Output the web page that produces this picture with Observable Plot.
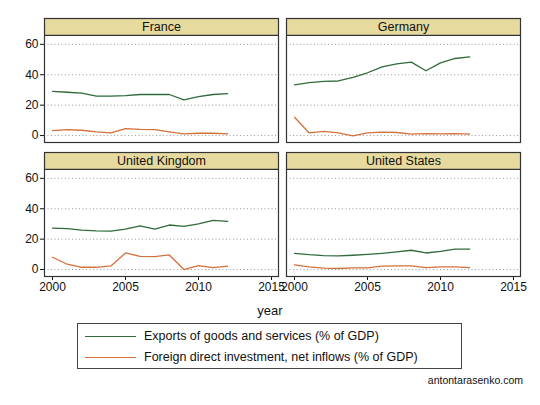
<!DOCTYPE html>
<html>
<head>
<meta charset="utf-8">
<script src="https://cdn.jsdelivr.net/npm/d3@7"></script>
<script src="https://cdn.jsdelivr.net/npm/@observablehq/plot@0.6"></script>
<style>
  html, body { margin: 0; padding: 0; background: #fff; }
  body { width: 540px; height: 405px; position: relative; overflow: hidden;
         font-family: "Liberation Sans", Arial, Helvetica, sans-serif; color: #111; }
  #chart { position: absolute; left: 0; top: 0; }
  #xlabel { position: absolute; left: 0; width: 540px; top: 303px; text-align: center; font-size: 13px; }
  #legend { position: absolute; left: 77px; top: 323px; width: 383px; height: 44px;
            border: 1px solid #444; box-sizing: content-box; }
  .item { position: absolute; left: 0; height: 20px; font-size: 12.5px; }
  .item .sw { position: absolute; left: 7px; top: 9px; width: 51px; height: 0; border-top: 1.3px solid; }
  .item .lab { position: absolute; left: 66px; top: 2px; white-space: nowrap; }
  #caption { position: absolute; right: 17px; top: 374px; font-size: 10.5px; }
</style>
</head>
<body>
<div id="chart"></div>
<div id="xlabel">year</div>
<div id="legend"></div>
<div id="caption">antontarasenko.com</div>
<script>
const years = [2000,2001,2002,2003,2004,2005,2006,2007,2008,2009,2010,2011,2012];
const countries = ["France","Germany","United Kingdom","United States"];
const seriesNames = ["Exports of goods and services (% of GDP)", "Foreign direct investment, net inflows (% of GDP)"];
const seriesColors = ["#2f6b3b", "#d4703a"];

const franceExports  = [29.1,28.5,27.9,25.9,26.0,26.3,27.0,27.0,27.0,23.5,25.6,27.0,27.6];
const franceFdi      = [3.3,3.9,3.5,2.4,1.7,4.6,4.1,3.9,2.4,1.1,1.5,1.5,1.1];
const germanyExports = [33.3,34.8,35.7,35.9,38.3,41.3,45.2,47.2,48.3,42.6,47.8,50.7,51.7];
const germanyFdi     = [12.0,1.7,2.8,1.7,-0.2,1.7,2.2,2.0,0.9,1.3,1.1,1.3,0.9];
const ukExports      = [27.3,26.9,26.0,25.5,25.3,26.6,28.8,26.6,29.3,28.4,30.1,32.3,31.7];
const ukFdi          = [8.1,3.5,1.5,1.5,2.4,10.9,8.7,8.5,9.6,0.0,2.6,1.3,2.2];
const usExports      = [10.7,9.8,9.2,9.0,9.4,10.0,10.7,11.6,12.7,10.9,12.0,13.5,13.5];
const usFdi          = [3.1,1.7,0.9,0.7,1.1,1.1,2.2,2.4,2.4,1.3,1.7,1.7,1.3];

const xTicks = [2000, 2005, 2010, 2015];
const yTicks = [0, 20, 40, 60];

const byCountry = {
  "France": [franceExports, franceFdi],
  "Germany": [germanyExports, germanyFdi],
  "United Kingdom": [ukExports, ukFdi],
  "United States": [usExports, usFdi]
};

const panels = countries.map((c, i) => ({country: c, col: i % 2, row: Math.floor(i / 2)}));
const rows = [];
panels.forEach(p => {
  byCountry[p.country].forEach((vals, s) => {
    vals.forEach((v, k) => rows.push({country: p.country, col: p.col, row: p.row, series: seriesNames[s], year: years[k], value: v}));
  });
});

const xDomain = [1999.45, 2015.48];
const yDomain = [-4.57, 77.0];
const stripBottom = 65.9;
const stripMid = (stripBottom + yDomain[1]) / 2;

const chart = Plot.plot({
  width: 540,
  height: 300,
  marginLeft: 44,
  marginRight: 19,
  marginTop: 18,
  marginBottom: 23,
  style: {fontFamily: '"Liberation Sans", Arial, Helvetica, sans-serif', fontSize: "12px", color: "#111", background: "#fff"},
  fx: {axis: null, paddingInner: 0.033, paddingOuter: 0},
  fy: {axis: null, paddingInner: 0.0743, paddingOuter: 0},
  x: {domain: xDomain, ticks: xTicks, tickFormat: "d", label: null, tickSize: 4, tickPadding: 2},
  y: {domain: yDomain, ticks: yTicks, label: null, tickSize: 4, tickPadding: 2},
  color: {domain: seriesNames, range: seriesColors},
  marks: [
    Plot.ruleY(yTicks, {stroke: "#999", strokeDasharray: "1,2.5", strokeWidth: 1}),
    Plot.rect(panels, {fx: "col", fy: "row", x1: xDomain[0], x2: xDomain[1], y1: stripBottom, y2: yDomain[1], fill: "#e7da9e"}),
    Plot.ruleY(panels, {fx: "col", fy: "row", y: () => stripBottom, stroke: "#333", strokeWidth: 1.1}),
    Plot.text(panels, {fx: "col", fy: "row", text: "country", x: () => (xDomain[0] + xDomain[1]) / 2, y: () => stripMid, lineAnchor: "middle", fontSize: 12.5, fill: "#111"}),
    Plot.line(rows, {fx: "col", fy: "row", x: "year", y: "value", z: "series", stroke: "series", strokeWidth: 1.3}),
    Plot.frame({stroke: "#333", strokeWidth: 1.2})
  ]
});
document.getElementById("chart").appendChild(chart);

const legend = document.getElementById("legend");
seriesNames.forEach((name, i) => {
  const item = document.createElement("div");
  item.className = "item";
  item.style.top = (3 + i * 21) + "px";
  item.style.width = "100%";
  const sw = document.createElement("div");
  sw.className = "sw";
  sw.style.borderTopColor = seriesColors[i];
  const lab = document.createElement("div");
  lab.className = "lab";
  lab.textContent = name;
  item.appendChild(sw);
  item.appendChild(lab);
  legend.appendChild(item);
});
</script>
</body>
</html>
